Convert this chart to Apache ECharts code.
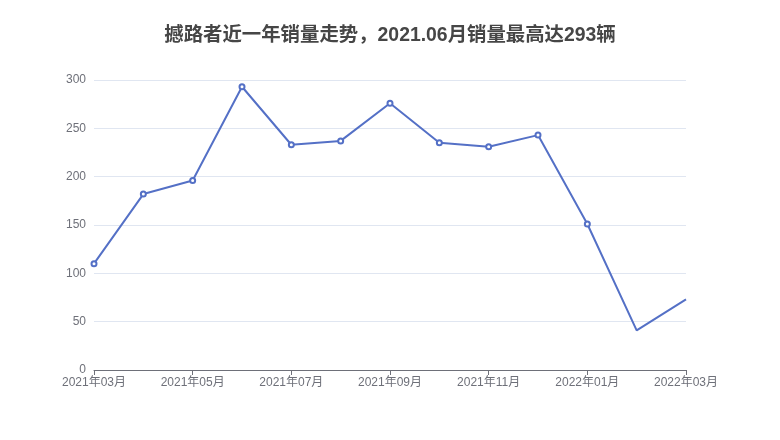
<!DOCTYPE html>
<html><head><meta charset="utf-8">
<script src="https://cdn.jsdelivr.net/npm/echarts@6/dist/echarts.min.js"></script>
<style>html,body{margin:0;padding:0;background:#fff}#c{width:780px;height:440px}</style>
</head><body><div id="c"></div>
<script>
const categories = ['2021年03月','2021年04月','2021年05月','2021年06月','2021年07月','2021年08月','2021年09月','2021年10月','2021年11月','2021年12月','2022年01月','2022年02月','2022年03月'];
const sales = [110, 182, 196, 293, 233, 237, 276, 235, 231, 243, 151, 41, 73];
const yTicks = [0, 50, 100, 150, 200, 250, 300];
const titleText = '撼路者近一年销量走势，2021.06月销量最高达293辆';

const FONT = '"Liberation Sans", "Noto Sans CJK SC", sans-serif';
const chart = echarts.init(document.getElementById('c'));
chart.setOption({
  animation: false,
  title: {
    text: titleText, left: 'center', top: 21,
    textStyle: { fontSize: 19.4, fontWeight: 'bold', color: '#464646', fontFamily: FONT }
  },
  grid: { left: 94, right: 94, top: 80, bottom: 70 },
  xAxis: {
    type: 'category', data: categories, boundaryGap: false,
    axisLine: { lineStyle: { color: '#6E7079' } },
    axisTick: { interval: 1, length: 5 },
    axisLabel: { interval: 1, color: '#6E7079', fontSize: 12, margin: 7, fontFamily: FONT }
  },
  yAxis: {
    type: 'value', min: yTicks[0], max: yTicks[yTicks.length - 1], interval: 50,
    axisLabel: { color: '#6E7079', fontSize: 12, fontFamily: FONT },
    splitLine: { lineStyle: { color: '#E0E6F1' } }
  },
  series: [{
    type: 'line',
    data: sales.map((v, i) => i >= sales.length - 2 ? { value: v, symbol: 'none' } : v),
    symbol: 'emptyCircle', symbolSize: 5, showAllSymbol: true,
    lineStyle: { color: '#5470c6', width: 2 },
    itemStyle: { color: '#5470c6' }
  }]
});
</script></body></html>
